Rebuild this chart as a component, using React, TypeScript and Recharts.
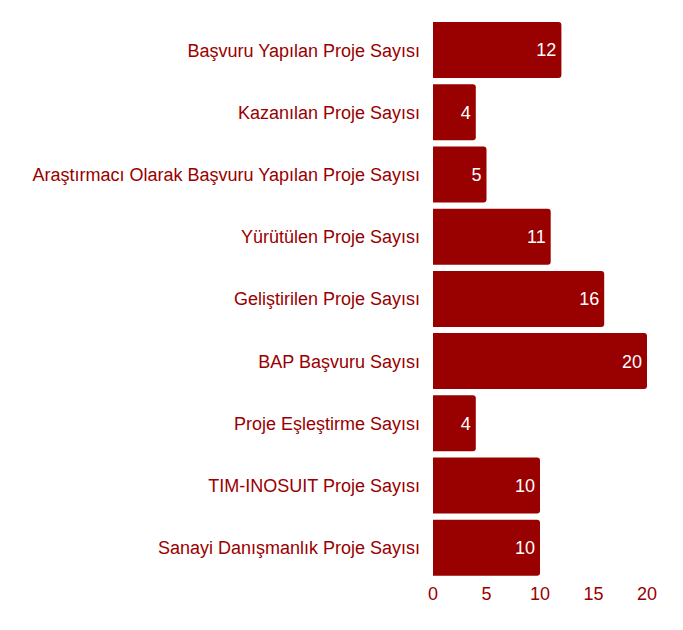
import { BarChart, Bar, XAxis, YAxis, LabelList } from "recharts";

const categories = [
  "Başvuru Yapılan Proje Sayısı",
  "Kazanılan Proje Sayısı",
  "Araştırmacı Olarak Başvuru Yapılan Proje Sayısı",
  "Yürütülen Proje Sayısı",
  "Geliştirilen Proje Sayısı",
  "BAP Başvuru Sayısı",
  "Proje Eşleştirme Sayısı",
  "TIM-INOSUIT Proje Sayısı",
  "Sanayi Danışmanlık Proje Sayısı",
];

const values = [12, 4, 5, 11, 16, 20, 4, 10, 10];

const xTicks = [0, 5, 10, 15, 20];

const data = categories.map((name, i) => ({ name, value: values[i] }));

const RED = "#990000";
const FONT = "'Liberation Sans', Arial, Helvetica, sans-serif";

export default function App() {
  return (
    <div style={{ fontFamily: FONT }}>
      <BarChart
        width={667}
        height={614}
        data={data}
        layout="vertical"
        margin={{ top: 11, right: 28, left: 0, bottom: 13 }}
        barCategoryGap={3}
      >
        <XAxis
          type="number"
          domain={[0, 20]}
          ticks={xTicks}
          axisLine={false}
          tickLine={false}
          tick={{ fill: RED, fontSize: 18, fontFamily: FONT }}
          height={30}
        />
        <YAxis
          type="category"
          dataKey="name"
          width={425}
          axisLine={false}
          tickLine={false}
          tickSize={0}
          tickMargin={13}
          interval={0}
          tick={{ fill: RED, fontSize: 18, fontFamily: FONT }}
        />
        <Bar
          dataKey="value"
          fill={RED}
          radius={[0, 3, 3, 0]}
          isAnimationActive={false}
        >
          <LabelList
            dataKey="value"
            position="insideRight"
            fill="#ffffff"
            style={{ fontSize: 18, fontFamily: FONT }}
          />
        </Bar>
      </BarChart>
    </div>
  );
}
